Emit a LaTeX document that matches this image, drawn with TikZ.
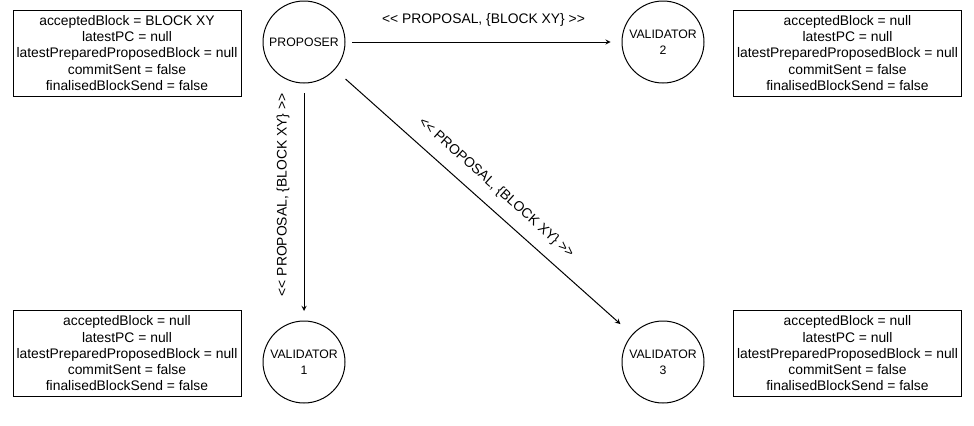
\documentclass[tikz,border=0pt]{standalone}
\usepackage{fontspec}
\setmainfont{Liberation Sans}
\usetikzlibrary{arrows}
\tikzstyle{edge}=[->, >=stealth, line width=0.75pt]
\tikzstyle{roleV}=[circle, draw, minimum size=61.5pt, line width=0.75pt, inner sep=0pt, outer sep=0pt, align=center, font=\fontsize{9.2}{12.3}\selectfont]
\tikzstyle{stateB}=[rectangle, draw, minimum width=171pt, minimum height=64.5pt, line width=0.75pt, inner sep=0pt, align=center, font=\fontsize{10.4}{12.2}\selectfont]
\tikzstyle{msg}=[inner sep=0pt, font=\fontsize{10.4}{12}\selectfont]

\begin{document}
\begin{tikzpicture}[x=0.75pt, y=-0.75pt]
      \useasboundingbox (0,0) rectangle (974,425);
      \node(0) [roleV] at (304, 42){PROPOSER};
      \node(1) [roleV] at (304, 362){VALIDATOR\\1};
      \node(2) [roleV] at (663, 42){VALIDATOR\\2};
      \node(3) [roleV] at (663, 362){VALIDATOR\\3};
      \node(s0) [stateB] at (127, 53){acceptedBlock = BLOCK XY\\latestPC = null\\latestPreparedProposedBlock = null\\commitSent = false\\finalisedBlockSend = false};
      \node(s1) [stateB] at (127, 353.5){acceptedBlock = null\\latestPC = null\\latestPreparedProposedBlock = null\\commitSent = false\\finalisedBlockSend = false};
      \node(s2) [stateB] at (847.5, 53){acceptedBlock = null\\latestPC = null\\latestPreparedProposedBlock = null\\commitSent = false\\finalisedBlockSend = false};
      \node(s3) [stateB] at (847.5, 353.5){acceptedBlock = null\\latestPC = null\\latestPreparedProposedBlock = null\\commitSent = false\\finalisedBlockSend = false};
      \draw[edge, shorten <=5.5pt, shorten >=8.5pt] (0) to node[msg, midway, above=11.5pt]{<{}< PROPOSAL, \{BLOCK XY\} >{}>} (2);
      \draw[edge, shorten <=7.5pt, shorten >=7.5pt] (0) to node[msg, pos=0.47, rotate=90, above=10.5pt]{<{}< PROPOSAL, \{BLOCK XY\} >{}>} (1);
      \draw[edge, shorten <=11pt, shorten >=12pt] (0) to node[msg, midway, sloped, above=9pt]{<{}< PROPOSAL, \{BLOCK XY\} >{}>} (3);
    \end{tikzpicture}
\end{document}
